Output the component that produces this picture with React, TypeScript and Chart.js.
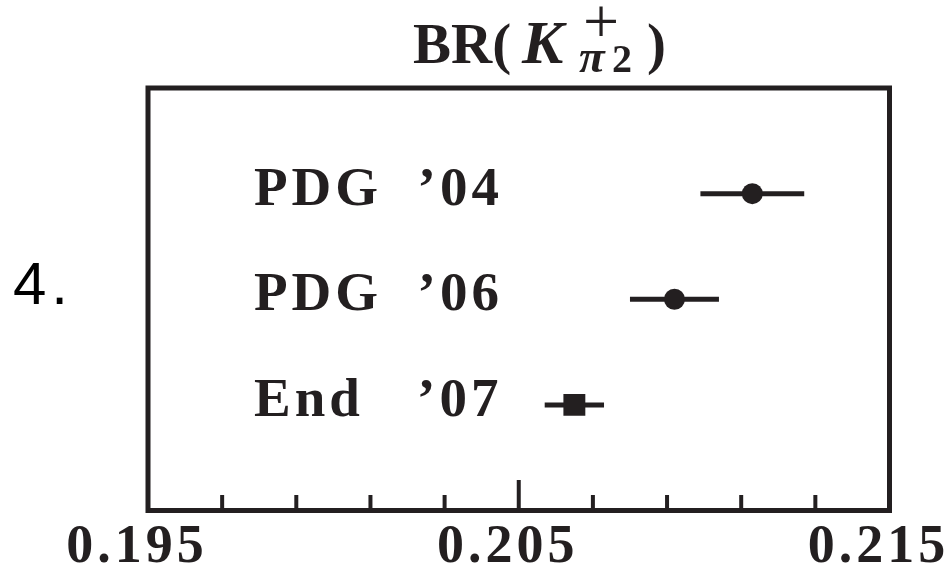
import React, { useEffect, useRef } from 'react';
import { Chart, registerables } from 'chart.js';

Chart.register(...registerables);

// ---- data ----
const rowLabels = ['PDG  ’04', 'PDG  ’06', 'End   ’07'];
const rowPositions = [1, 2, 3];
const centralValues = [0.2113, 0.2092, 0.2065];
const lowerValues = [0.2099, 0.208, 0.2057];
const upperValues = [0.2127, 0.2104, 0.2073];
const markerStyles = ['circle', 'circle', 'rect'];

const xMin = 0.195;
const xMax = 0.215;
const xStep = 0.002;
const majorTickValues = [0.195, 0.205, 0.215];
const xTickLabels = ['0.195', '0.205', '0.215'];

const titleParts = ['BR(', 'K', '+', 'π', '2', ')'];
const sideLabel = '4.';

const INK = '#231f20';
const SERIF = '"Liberation Serif", "Times New Roman", serif';

const zeroPadding = (s: any) => {
  s.paddingTop = 0;
  s.paddingBottom = 0;
  s.paddingLeft = 0;
  s.paddingRight = 0;
};

const framePlugin = {
  id: 'framePlugin',
  beforeDraw(chart: any) {
    chart.ctx.letterSpacing = '4px';
  },
  afterDraw(chart: any) {
    const { ctx, chartArea: a, scales } = chart;
    ctx.save();
    ctx.letterSpacing = '0px';
    // frame
    ctx.strokeStyle = INK;
    ctx.lineWidth = 5;
    ctx.strokeRect(a.left, a.top, a.right - a.left, a.bottom - a.top);
    // inward ticks on the x axis
    const xs = scales.x;
    ctx.lineWidth = 4;
    xs.ticks.forEach((t: any) => {
      const px = xs.getPixelForValue(t.value);
      const major = majorTickValues.some((m) => Math.abs(m - t.value) < 1e-7);
      const len = major ? 30.5 : 15.5;
      ctx.beginPath();
      ctx.moveTo(px, a.bottom);
      ctx.lineTo(px, a.bottom - len);
      ctx.stroke();
    });
    // title
    ctx.fillStyle = INK;
    ctx.textBaseline = 'alphabetic';
    ctx.textAlign = 'left';
    ctx.font = `bold 57px ${SERIF}`;
    ctx.fillText(titleParts[0], 413, 63);
    ctx.font = `bold italic 62px ${SERIF}`;
    ctx.fillText(titleParts[1], 522, 63);
    ctx.font = `64px ${SERIF}`;
    ctx.textAlign = 'center';
    ctx.fillText(titleParts[2], 601, 43);
    ctx.textAlign = 'left';
    ctx.font = `bold italic 47px ${SERIF}`;
    ctx.fillText(titleParts[3], 579, 72);
    ctx.font = `bold 40px ${SERIF}`;
    ctx.fillText(titleParts[4], 612, 72);
    ctx.font = `bold 57px ${SERIF}`;
    ctx.fillText(titleParts[5], 647, 63);
    // side label
    ctx.fillStyle = '#000';
    ctx.font = '60px "Liberation Sans", Arial, sans-serif';
    ctx.letterSpacing = '5px';
    ctx.fillText(sideLabel, 13, 304);
    ctx.restore();
  },
};

export default function App() {
  const ref = useRef<HTMLCanvasElement | null>(null);

  useEffect(() => {
    if (!ref.current) return;
    document.body.style.margin = '0';

    const errorBarSets = rowLabels.map((lab, i) => ({
      label: lab + ' error',
      data: [
        { x: lowerValues[i], y: rowPositions[i] },
        { x: upperValues[i], y: rowPositions[i] },
      ],
      showLine: true,
      borderColor: INK,
      borderWidth: 5,
      borderCapStyle: 'butt',
      pointRadius: 0,
      pointHoverRadius: 0,
      order: 1,
    }));

    const markerSet = {
      label: 'central',
      data: centralValues.map((v, i) => ({ x: v, y: rowPositions[i] })),
      pointStyle: markerStyles,
      pointRadius: (c: any) => (markerStyles[c.dataIndex] === 'rect' ? 15.5 : 10.5),
      backgroundColor: INK,
      borderColor: INK,
      borderWidth: 0,
      showLine: false,
      order: 0,
    };

    const chart = new Chart(ref.current, {
      type: 'scatter',
      data: { datasets: [...errorBarSets, markerSet] as any },
      options: {
        animation: false,
        responsive: false,
        maintainAspectRatio: false,
        layout: { padding: { left: 148, right: 56.5, top: 88, bottom: 0 } },
        plugins: { legend: { display: false }, tooltip: { enabled: false }, title: { display: false } },
        scales: {
          x: {
            type: 'linear',
            min: xMin,
            max: xMax,
            grid: { display: false },
            border: { display: false },
            afterFit: (s: any) => {
              s.height = 59.5;
              zeroPadding(s);
            },
            ticks: {
              stepSize: xStep,
              autoSkip: false,
              maxRotation: 0,
              minRotation: 0,
              padding: -3,
              labelOffset: -11,
              color: INK,
              font: { family: SERIF, size: 54, weight: 'bold' },
              callback: (v: any) => {
                const idx = majorTickValues.findIndex((m) => Math.abs(m - Number(v)) < 1e-7);
                return idx >= 0 ? xTickLabels[idx] : '';
              },
            },
          },
          y: {
            type: 'linear',
            min: 0,
            max: 4,
            reverse: true,
            grid: { display: false },
            border: { display: false },
            afterFit: (s: any) => {
              s.width = 0;
              zeroPadding(s);
            },
            ticks: {
              stepSize: 1,
              autoSkip: false,
              mirror: true,
              padding: 106,
              labelOffset: -3,
              color: INK,
              font: { family: SERIF, size: 55, weight: 'bold' },
              callback: (v: any) => {
                const i = rowPositions.indexOf(Number(v));
                return i >= 0 ? rowLabels[i] : '';
              },
            },
          },
        },
      } as any,
      plugins: [framePlugin],
    });

    return () => chart.destroy();
  }, []);

  return (
    <div style={{ position: 'fixed', left: 0, top: 0, width: 946, height: 570, background: '#fff' }}>
      <canvas ref={ref} width={946} height={570} style={{ width: 946, height: 570, display: 'block' }} />
    </div>
  );
}
